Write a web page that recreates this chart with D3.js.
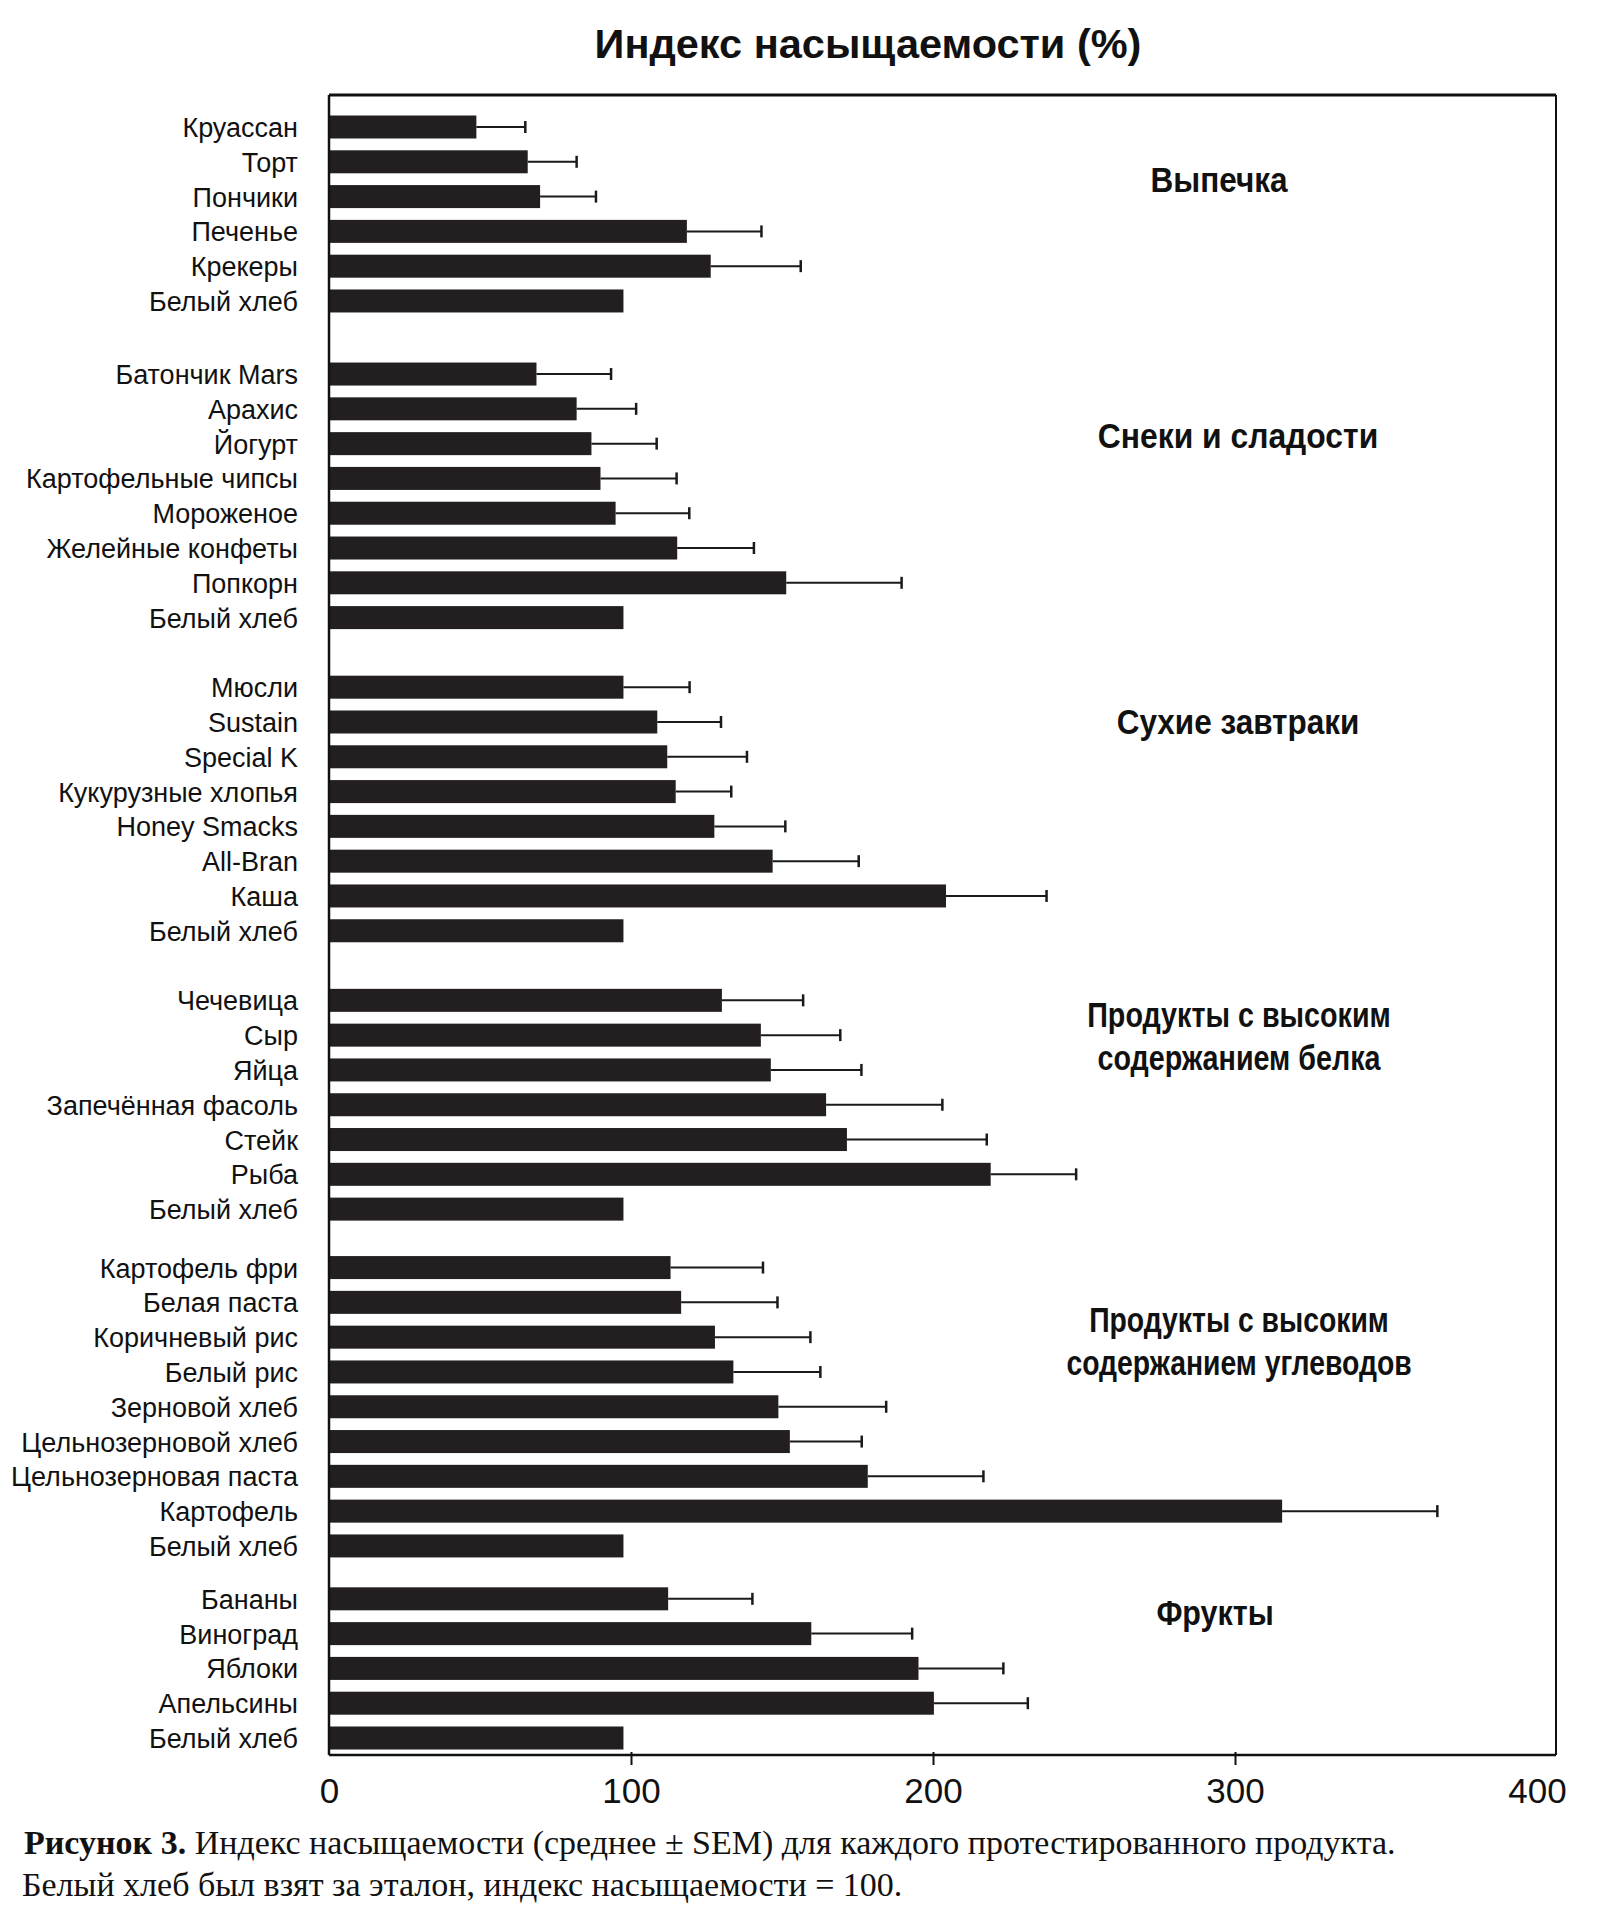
<!DOCTYPE html>
<html>
<head>
<meta charset="utf-8">
<script src="https://cdn.jsdelivr.net/npm/d3@7"></script>
<style>
  html, body { margin: 0; padding: 0; background: #fff; }
  svg { display: block; }
</style>
</head>
<body>
<svg id="chart" width="1600" height="1920"></svg>
<script>
// Values
const groupTitles = [
    ['Выпечка'],
    ['Снеки и сладости'],
    ['Сухие завтраки'],
    ['Продукты с высоким', 'содержанием белка'],
    ['Продукты с высоким', 'содержанием углеводов'],
    ['Фрукты']
];

const groupSizes = [6, 8, 8, 7, 9, 5];

const foods = [
    'Круассан', 'Торт', 'Пончики', 'Печенье', 'Крекеры', 'Белый хлеб',
    'Батончик Mars', 'Арахис', 'Йогурт', 'Картофельные чипсы', 'Мороженое', 'Желейные конфеты', 'Попкорн', 'Белый хлеб',
    'Мюсли', 'Sustain', 'Special K', 'Кукурузные хлопья', 'Honey Smacks', 'All-Bran', 'Каша', 'Белый хлеб',
    'Чечевица', 'Сыр', 'Яйца', 'Запечённая фасоль', 'Стейк', 'Рыба', 'Белый хлеб',
    'Картофель фри', 'Белая паста', 'Коричневый рис', 'Белый рис', 'Зерновой хлеб', 'Цельнозерновой хлеб', 'Цельнозерновая паста', 'Картофель', 'Белый хлеб',
    'Бананы', 'Виноград', 'Яблоки', 'Апельсины', 'Белый хлеб'
];

const means = [
    48.8, 65.8, 69.9, 118.5, 126.4, 97.5,
    68.7, 82.0, 86.9, 89.9, 94.9, 115.3, 151.4, 97.5,
    97.5, 108.7, 112.0, 114.8, 127.6, 146.9, 204.3, 97.5,
    130.1, 143.0, 146.3, 164.6, 171.5, 219.1, 97.5,
    113.1, 116.6, 127.8, 133.9, 148.8, 152.6, 178.4, 315.6, 97.5,
    112.3, 159.7, 195.2, 200.3, 97.5
];

const sems = [
    16.2, 16.2, 18.5, 24.7, 29.8, 0,
    24.7, 19.7, 21.6, 25.2, 24.4, 25.4, 38.2, 0,
    21.9, 21.1, 26.4, 18.4, 23.5, 28.5, 33.3, 0,
    26.9, 26.3, 30.0, 38.5, 46.3, 28.3, 0,
    30.6, 31.9, 31.6, 28.8, 35.7, 23.8, 38.3, 51.4, 0,
    27.9, 33.4, 28.1, 31.1, 0
];

const tickValues = [0, 100, 200, 300, 400];

// Layout
const gapSlots = [1.1, 1.0, 1.0, 0.68, 0.52];      // empty space between groups, in rows
const titleSlot = [1.51, 1.77, 0.99, 1.04, 2.13, 0.41]; // where each group title sits
const titleX = [1219, 1238, 1238, 1239, 1239, 1215];
const titleSquash = [0.9, 0.91, 0.9, 0.82, 0.81, 0.87]; // condensed look of the group titles

const frame = {left: 329, right: 1556, top: 95, bottom: 1755};
const barHeight = 23;

const svg = d3.select('#chart');

// Work out the row slot of every bar
const rows = [];
const groupStart = [];
let slot = 0;
let k = 0;
groupSizes.forEach((size, gi) => {
    if (gi > 0) slot += gapSlots[gi - 1];
    groupStart.push(slot);
    for (let i = 0; i < size; i++) {
        rows.push({name: foods[k], mean: means[k], sem: sems[k], slot: slot});
        slot += 1;
        k++;
    }
});
const lastSlot = slot - 1;

const x = d3.scaleLinear().domain([0, 400]).range([329, 1537]);
const y = d3.scaleLinear().domain([0, lastSlot]).range([127, 1738]);

// Title
svg.append('text')
    .attr('x', 868)
    .attr('y', 58)
    .attr('text-anchor', 'middle')
    .attr('font-family', 'Liberation Sans, Arial, sans-serif')
    .attr('font-weight', 'bold')
    .attr('font-size', 41.5)
    .attr('fill', '#111')
    .text('Индекс насыщаемости (%)');

// Bars
svg.append('g').selectAll('rect')
    .data(rows)
    .join('rect')
    .attr('x', x(0))
    .attr('y', d => y(d.slot) - barHeight / 2)
    .attr('width', d => x(d.mean) - x(0))
    .attr('height', barHeight)
    .attr('fill', '#231f20');

// Error bars (only upper side is visible)
const errRows = rows.filter(d => d.sem > 0);
const err = svg.append('g').attr('stroke', '#1a1a1a');
err.selectAll('line.stem')
    .data(errRows)
    .join('line')
    .attr('class', 'stem')
    .attr('x1', d => x(d.mean))
    .attr('x2', d => x(d.mean + d.sem))
    .attr('y1', d => y(d.slot))
    .attr('y2', d => y(d.slot))
    .attr('stroke-width', 2);
err.selectAll('line.cap')
    .data(errRows)
    .join('line')
    .attr('class', 'cap')
    .attr('x1', d => x(d.mean + d.sem))
    .attr('x2', d => x(d.mean + d.sem))
    .attr('y1', d => y(d.slot) - 6)
    .attr('y2', d => y(d.slot) + 6)
    .attr('stroke-width', 2.5);

// Food names
svg.append('g').selectAll('text')
    .data(rows)
    .join('text')
    .attr('x', 298)
    .attr('y', d => y(d.slot) + 10)
    .attr('text-anchor', 'end')
    .attr('font-family', 'Liberation Sans, Arial, sans-serif')
    .attr('font-size', 27)
    .attr('fill', '#111')
    .text(d => d.name);

// Group titles, condensed bold
groupTitles.forEach((lines, gi) => {
    const cy = y(groupStart[gi] + titleSlot[gi]);
    const g = svg.append('g')
        .attr('transform', `translate(${titleX[gi]},${cy}) scale(${titleSquash[gi]},1)`);
    lines.forEach((line, li) => {
        g.append('text')
            .attr('x', 0)
            .attr('y', 12 + (li - (lines.length - 1) / 2) * 43)
            .attr('text-anchor', 'middle')
            .attr('font-family', 'Liberation Sans, Arial, sans-serif')
            .attr('font-weight', 'bold')
            .attr('font-size', 35)
            .attr('fill', '#111')
            .text(line);
    });
});

// Frame
const frameG = svg.append('g').attr('stroke', '#111').attr('fill', 'none');
frameG.append('line')
    .attr('x1', frame.left).attr('x2', frame.right)
    .attr('y1', frame.top).attr('y2', frame.top)
    .attr('stroke-width', 3);
frameG.append('line')
    .attr('x1', frame.right).attr('x2', frame.right)
    .attr('y1', frame.top).attr('y2', frame.bottom)
    .attr('stroke-width', 2);
frameG.append('line')
    .attr('x1', frame.left).attr('x2', frame.left)
    .attr('y1', frame.top).attr('y2', frame.bottom)
    .attr('stroke-width', 2.5);
frameG.append('line')
    .attr('x1', frame.left).attr('x2', frame.right)
    .attr('y1', frame.bottom).attr('y2', frame.bottom)
    .attr('stroke-width', 2.5);

// X axis
const axis = svg.append('g')
    .attr('transform', `translate(0,${frame.bottom})`)
    .call(d3.axisBottom(x).tickValues(tickValues).tickSizeInner(10).tickSizeOuter(0));
axis.select('.domain').remove();
axis.selectAll('.tick line')
    .attr('y1', -3)
    .attr('stroke', '#111')
    .attr('stroke-width', 2)
    .attr('display', d => (d === 0 || d === 400) ? 'none' : null);
axis.selectAll('.tick text')
    .attr('y', 48)
    .attr('dy', 0)
    .attr('font-family', 'Liberation Sans, Arial, sans-serif')
    .attr('font-size', 35)
    .attr('fill', '#111');

// Caption
const caption = svg.append('g')
    .attr('font-family', 'Liberation Serif, Times New Roman, serif')
    .attr('font-size', 34)
    .attr('fill', '#111');
const line1 = caption.append('text').attr('x', 24).attr('y', 1854);
line1.append('tspan').attr('font-weight', 'bold').text('Рисунок 3.');
line1.append('tspan').text(' Индекс насыщаемости (среднее ± SEM) для каждого протестированного продукта.');
caption.append('text').attr('x', 22).attr('y', 1896)
    .text('Белый хлеб был взят за эталон, индекс насыщаемости = 100.');
</script>
</body>
</html>
